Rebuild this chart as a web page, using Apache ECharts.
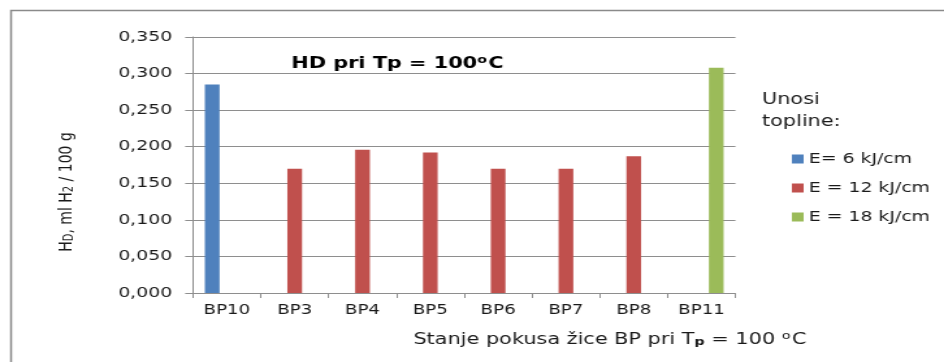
<!DOCTYPE html>
<html>
<head>
<meta charset="utf-8">
<script src="https://cdn.jsdelivr.net/npm/echarts@6/dist/echarts.min.js"></script>
<style>
  html, body { margin: 0; padding: 0; background: #fff; overflow: hidden; }
  /* chart drawn at a narrower width, then widened horizontally */
  #chart { width: 726px; height: 362px; transform: scaleX(1.3003); transform-origin: 0 0; }
</style>
</head>
<body>
<div id="chart"></div>
<script>
const categories = ['BP10', 'BP3', 'BP4', 'BP5', 'BP6', 'BP7', 'BP8', 'BP11'];
const seriesNames = ['E= 6 kJ/cm', 'E = 12 kJ/cm', 'E = 18 kJ/cm'];
const heat6 = [0.285, null, null, null, null, null, null, null];
const heat12 = [null, 0.170, 0.196, 0.192, 0.170, 0.170, 0.187, null];
const heat18 = [null, null, null, null, null, null, null, 0.308];
const yTicks = { min: 0, max: 0.35, step: 0.05 };

const FONT = 'DejaVu Sans';
const TEXT = '#1a1a1a';
const GRID = '#8e8e8e';
const colors = ['#4F81BD', '#C0504D', '#9BBB59'];

const chart = echarts.init(document.getElementById('chart'), null, { renderer: 'canvas' });

const bar = (name, data, color) => ({
  name, type: 'bar', data,
  barGap: '0%', barCategoryGap: '35%',
  itemStyle: { color },
  emphasis: { disabled: true }
});

chart.setOption({
  animation: false,
  backgroundColor: '#fff',
  textStyle: { fontFamily: FONT },
  graphic: [{
    type: 'rect', left: 6, top: 8, silent: true, z: -1,
    shape: { width: 800, height: 400 },
    style: { fill: 'none', stroke: '#8a8a8a', lineWidth: 1.5 }
  }],
  title: [{
    text: '{t|HD pri Tp = 100}{o|o}{t|C}',
    left: 224, top: 54, padding: 0,
    textStyle: {
      rich: {
        t: { fontFamily: FONT, fontWeight: 'bold', fontSize: 16, color: '#000', lineHeight: 20 },
        o: { fontFamily: FONT, fontWeight: 'bold', fontSize: 11, color: '#000', lineHeight: 12, padding: [0, 1, 7, 0] }
      }
    }
  }, {
    text: 'Unosi\ntopline:',
    left: 586, top: 89, padding: 0,
    textStyle: { fontFamily: FONT, fontWeight: 'normal', fontSize: 16, color: TEXT, lineHeight: 22 }
  }],
  legend: {
    orient: 'vertical', left: 609, top: 150, padding: 0,
    itemWidth: 9, itemHeight: 9, itemGap: 11,
    icon: 'rect',
    textStyle: { fontFamily: FONT, fontSize: 14.5, color: TEXT, lineHeight: 18, padding: [0, 0, 0, -1] },
    data: seriesNames
  },
  grid: { left: 148.4, right: 160.4, top: 37, bottom: 69, containLabel: false },
  xAxis: {
    type: 'category', data: categories,
    axisLine: { lineStyle: { color: GRID, width: 1 } },
    axisTick: { show: true, length: 5, alignWithLabel: false, lineStyle: { color: GRID } },
    axisLabel: { fontFamily: FONT, fontSize: 14, color: TEXT, margin: 10 },
    name: '{a|Stanje pokusa žice BP pri T}{p|p}{a| = 100 }{o|o}{a|C}',
    nameLocation: 'middle', nameGap: 38,
    nameTextStyle: {
      padding: [0, 0, 0, 224],
      rich: {
        a: { fontFamily: FONT, fontSize: 16, color: TEXT },
        p: { fontFamily: FONT, fontSize: 11, fontWeight: 'bold', color: TEXT, padding: [6, 0, 0, 0] },
        o: { fontFamily: FONT, fontSize: 11, color: TEXT, lineHeight: 12, padding: [0, 1, 7, 0] }
      }
    }
  },
  yAxis: {
    type: 'value', min: yTicks.min, max: yTicks.max, interval: yTicks.step,
    axisLine: { show: true, lineStyle: { color: GRID, width: 1 } },
    axisTick: { show: true, length: 6, lineStyle: { color: GRID } },
    splitLine: { lineStyle: { color: GRID, width: 1 } },
    axisLabel: {
      fontFamily: FONT, fontSize: 14.5, color: TEXT, margin: 16,
      formatter: v => v.toFixed(3).replace('.', ',')
    },
    name: '{a|H}{s|D}{a|, ml H}{s|2}{a| / 100 g}',
    nameLocation: 'middle', nameGap: 90,
    nameTextStyle: {
      padding: [0, 54, 0, 0],
      rich: {
        a: { fontFamily: FONT, fontSize: 14, color: TEXT },
        s: { fontFamily: FONT, fontSize: 10, color: TEXT, padding: [4, 0, 0, 0] }
      }
    }
  },
  series: [
    bar(seriesNames[0], heat6, colors[0]),
    bar(seriesNames[1], heat12, colors[1]),
    bar(seriesNames[2], heat18, colors[2])
  ]
});
</script>
</body>
</html>
